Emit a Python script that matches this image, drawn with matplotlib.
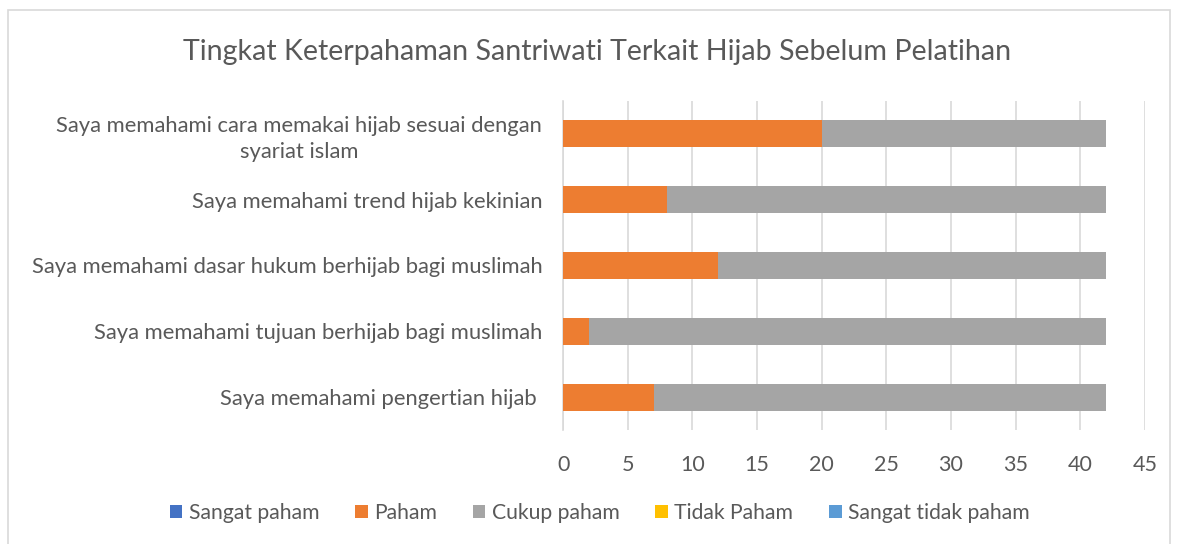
import matplotlib.pyplot as plt
import numpy as np
from matplotlib.patches import Rectangle

categories = [
    "Saya memahami pengertian hijab ",
    "Saya memahami tujuan berhijab bagi muslimah",
    "Saya memahami dasar hukum berhijab bagi muslimah",
    "Saya memahami trend hijab kekinian",
    "Saya memahami cara memakai hijab sesuai dengan\nsyariat islam",
]
series_names = ["Sangat paham", "Paham", "Cukup paham", "Tidak Paham", "Sangat tidak paham"]
sangat_paham = [0, 0, 0, 0, 0]
paham = [7, 2, 12, 8, 20]
cukup_paham = [35, 40, 30, 34, 22]
tidak_paham = [0, 0, 0, 0, 0]
sangat_tidak_paham = [0, 0, 0, 0, 0]
colors = ["#4472C4", "#ED7D31", "#A5A5A5", "#FFC000", "#5B9BD5"]
xticks = [0, 5, 10, 15, 20, 25, 30, 35, 40, 45]

plt.rcParams["font.family"] = ["Lato", "DejaVu Sans"]
text_color = "#595959"

fig = plt.figure(figsize=(11.78, 5.44), dpi=100)
ax = fig.add_axes([0.478, 0.2096, 0.494, 0.6047])

# chart border
fig.patches.append(Rectangle((0.007, -0.01), 0.986, 0.992, transform=fig.transFigure,
                             fill=False, edgecolor="#D9D9D9", linewidth=1.2))

y = np.arange(len(categories))
left = np.zeros(len(categories))
for name, vals, c in zip(series_names,
                         [sangat_paham, paham, cukup_paham, tidak_paham, sangat_tidak_paham],
                         colors):
    ax.barh(y, vals, left=left, height=0.41, color=c, label=name, zorder=3)
    left += np.array(vals)

ax.set_xlim(0, 45)
ax.set_ylim(-0.5, len(categories) - 0.5)
ax.set_xticks(xticks)
ax.set_yticks(y)
ax.set_yticklabels(categories, fontsize=15.8, color=text_color, multialignment="center",
                   linespacing=1.35)
ax.tick_params(axis="x", labelsize=15.5, labelcolor=text_color, length=0, pad=18)
ax.tick_params(axis="y", length=0, pad=15)
ax.grid(axis="x", color="#D9D9D9", linewidth=1.2, zorder=0)
for s in ["top", "right", "bottom"]:
    ax.spines[s].set_visible(False)
ax.spines["left"].set_color("#D9D9D9")
ax.spines["left"].set_linewidth(1.2)

fig.text(0.507, 0.905, "Tingkat Keterpahaman Santriwati Terkait Hijab Sebelum Pelatihan",
         ha="center", va="center", fontsize=20.6, color=text_color)

fig.legend(loc="center", bbox_to_anchor=(0.509, 0.057), ncol=5, frameon=False,
           fontsize=15.2, labelcolor=text_color, handlelength=0.6, handleheight=0.6,
           handletextpad=0.3, columnspacing=1.7)

fig.savefig("out.png", dpi=100)
